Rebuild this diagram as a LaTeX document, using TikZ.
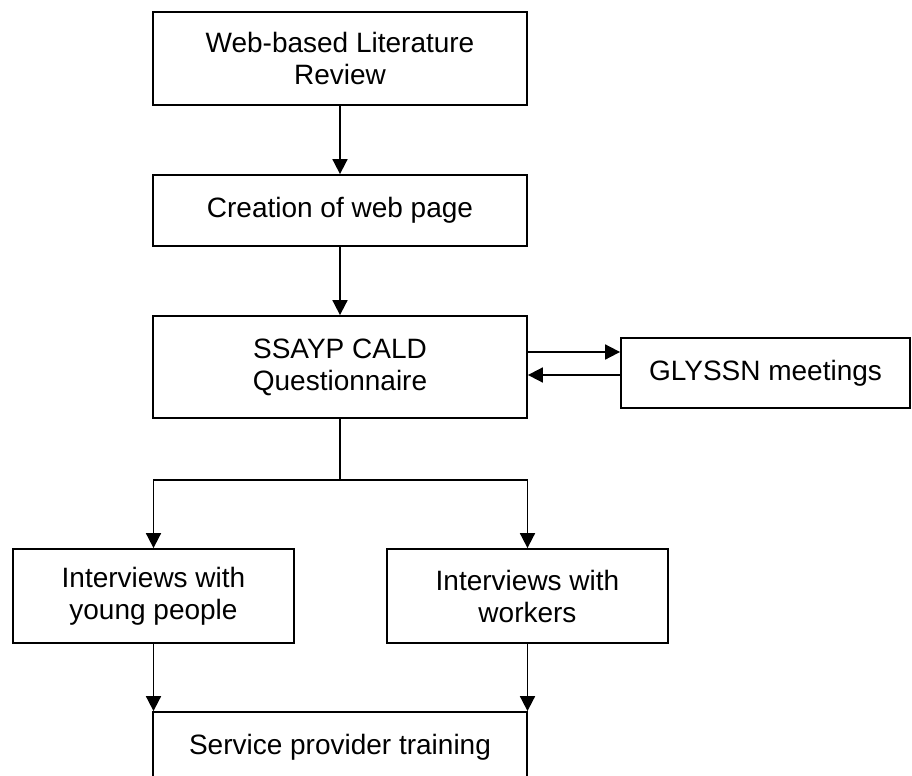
\documentclass[tikz,border=0pt]{standalone}
\usepackage{fontspec}
\setmainfont{Liberation Sans}
\usetikzlibrary{arrows.meta}

\begin{document}
\begin{tikzpicture}[x=0.5pt,y=-0.5pt, line width=0.9pt,
		block/.style={draw=black, align=center, inner sep=0pt, font=\fontsize{14}{16}\selectfont},
		flow/.style={-{Triangle[length=7.5pt,width=7.5pt]}}]
		\useasboundingbox (0,0) rectangle (912,776);
		\clip (0,0) rectangle (912,776);
		
		\node[block, minimum width=187pt, minimum height=46.5pt] (lit) at (340,58.5) {Web-based Literature\\Review};
		\node[block, minimum width=187pt, minimum height=35.5pt] (web) at (340,210.5) {Creation of web page};
		\node[block, minimum width=187pt, minimum height=51pt] (quest) at (340,367) {SSAYP CALD\\Questionnaire};
		\node[block, minimum width=144.5pt, minimum height=35pt] (glyssn) at (765.5,373) {GLYSSN meetings};
		\node[block, minimum width=140.5pt, minimum height=47pt] (young) at (153.5,596) {Interviews with\\young people};
		\node[block, minimum width=140.5pt, minimum height=47pt] (workers) at (527.5,596) {Interviews with\\workers};
		\node[block, minimum width=187pt, minimum height=35.5pt] (train) at (340,747.5) {Service provider training};
		
		\draw[flow] (lit.south) -- (web.north);
		\draw[flow] (web.south) -- (quest.north);
		
		% to and from the meetings
		\coordinate (gout) at ([yshift=7.5pt]quest.east);
		\coordinate (gin) at ([yshift=-4pt]quest.east);
		\draw[flow] (gout) -- (gout -| glyssn.west);
		\draw[flow] (gin -| glyssn.west) -- (gin);
		
		\draw (quest.south) -- ++(0,61) coordinate (split);
		\draw[flow] (split) -| (young.north);
		\draw[flow] (split) -| (workers.north);
		
		\draw[flow] (young.south) -- (young.south |- train.north);
		\draw[flow] (workers.south) -- (workers.south |- train.north);
	\end{tikzpicture}
\end{document}
